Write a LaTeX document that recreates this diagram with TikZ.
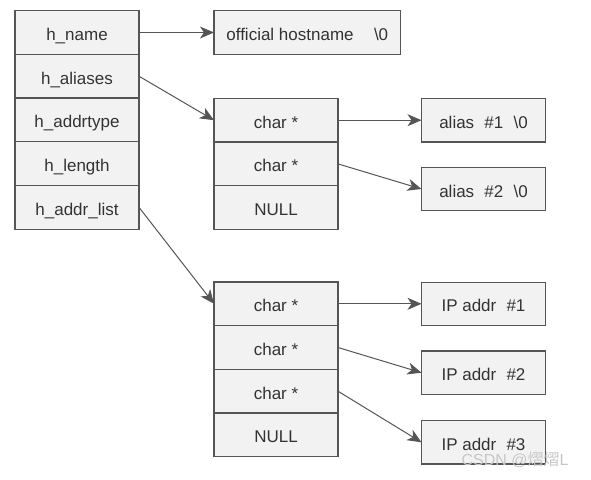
\documentclass[tikz,border=0pt]{standalone}
\usepackage{fontspec}
\setmainfont{Liberation Sans}
\newfontfamily\cjk{Noto Sans CJK SC}
\usetikzlibrary{positioning,arrows.meta}
\definecolor{kasten}{HTML}{F2F2F2}
\definecolor{rahmen}{HTML}{555555}
\definecolor{schrift}{HTML}{333333}

\begin{document}
\begin{tikzpicture}[x=1pt,y=-1pt,
    feld/.style={draw=rahmen, fill=kasten, line width=1.2pt, minimum width=124pt, minimum height=43.7pt,
        inner sep=0pt, outer sep=0pt, text=schrift, text height=16pt, text depth=0pt,
        font=\fontsize{17}{20}\selectfont},
    zeiger/.style={draw=rahmen, line width=1pt, -{Stealth[length=14pt, width=12pt, inset=4pt]}}]
    \useasboundingbox (0,0) rectangle (591,479);

    % struct hostent
    \node [feld] (hname) at (77,32.5) {h\_name};
    \node [feld, below=0pt of hname] (haliases) {h\_aliases};
    \node [feld, below=0pt of haliases] (haddrtype) {h\_addrtype};
    \node [feld, below=0pt of haddrtype] (hlength) {h\_length};
    \node [feld, below=0pt of hlength] (haddrlist) {h\_addr\_list};

    \node [feld, minimum width=186.7pt] (hostname) at (307.3,32.5) {official hostname\hspace{1.2em}\textbackslash0};

    % Aliasliste
    \node [feld] (alias1) at (276,120.2) {char *};
    \node [feld, below=0pt of alias1] (alias2) {char *};
    \node [feld, below=0pt of alias2] (aliasnull) {NULL};
    \node [feld, minimum height=43.4pt] (aliastext1) at (483.5,120.2) {alias\hspace{0.6em}\#1\hspace{0.6em}\textbackslash0};
    \node [feld, minimum height=43.4pt] (aliastext2) at (483.5,189) {alias\hspace{0.6em}\#2\hspace{0.6em}\textbackslash0};

    % Adressliste
    \node [feld] (addr1) at (276,303.8) {char *};
    \node [feld, below=0pt of addr1] (addr2) {char *};
    \node [feld, below=0pt of addr2] (addr3) {char *};
    \node [feld, below=0pt of addr3] (addrnull) {NULL};
    \node [feld, minimum height=43.4pt] (ip1) at (483.5,303.8) {IP addr\hspace{0.6em}\#1};
    \node [feld, minimum height=43.4pt] (ip2) at (483.5,372.7) {IP addr\hspace{0.6em}\#2};
    \node [feld, minimum height=43.4pt] (ip3) at (483.5,442.3) {IP addr\hspace{0.6em}\#3};

    % Zeiger
    \draw [zeiger] (hname.east) -- (hostname.west);
    \draw [zeiger] (haliases.east) -- (alias1.west);
    \draw [zeiger] (haddrlist.east) -- (addr1.west);
    \draw [zeiger] (alias1.east) -- (aliastext1.west);
    \draw [zeiger] (alias2.east) -- (aliastext2.west);
    \draw [zeiger] (addr1.east) -- (ip1.west);
    \draw [zeiger] (addr2.east) -- (ip2.west);
    \draw [zeiger] (addr3.east) -- (ip3.west);

    % Wasserzeichen
    \node [text=black!22, font=\fontsize{16}{18}\selectfont] (csdn) at (515,460) {CSDN @{\cjk 熠熠}L};
\end{tikzpicture}
\end{document}
